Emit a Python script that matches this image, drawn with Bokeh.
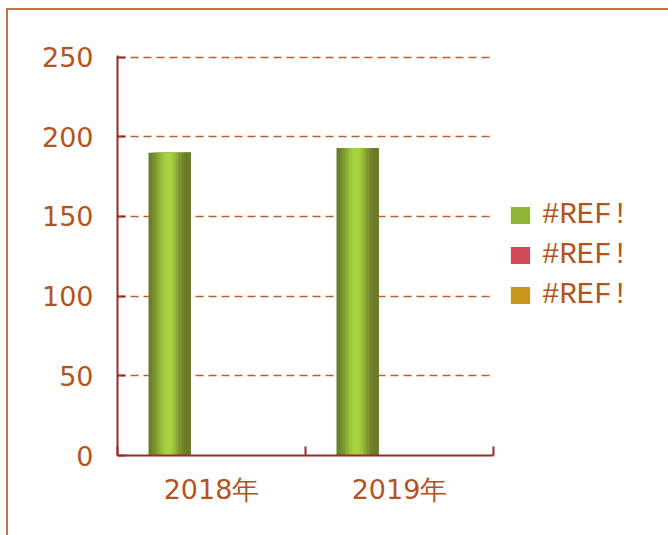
from bokeh.plotting import figure
from bokeh.models import (Range1d, FixedTicker, Legend, LegendItem, ColumnDataSource)
from bokeh.embed import file_html
from bokeh.resources import INLINE
import math

# ---- data ----
categories = ["2018年", "2019年"]
series_names = ["#REF!", "#REF!", "#REF!"]
series_1 = [190, 193]
series_2 = [math.nan, math.nan]
series_3 = [math.nan, math.nan]
y_ticks = [0, 50, 100, 150, 200, 250]

# ---- styles ----
TEXT = "#b5531f"
AXIS = "#9b2a2a"
GRID = "#bf5f2c"
BORDER = "#c47446"
gradients = [
    ["#6a7d2a", "#738b2c", "#7e9a2f", "#8cae34", "#9ac23a", "#a4cf3e", "#a8d440",
     "#a6d03f", "#9cc23b", "#8ca935", "#7d9430", "#72852c", "#6b7b2a", "#6a7a2a"],
    ["#8a2a3a", "#9a3242", "#b03c4c", "#c84656", "#dc5060", "#ea5868", "#f05c6c",
     "#ee5a6a", "#e05262", "#c84858", "#b03e4e", "#9c3444", "#8e2e3e", "#8a2c3c"],
    ["#9a7010", "#a67a12", "#b88814", "#cc9818", "#dea81c", "#eab420", "#f0ba22",
     "#eeb820", "#e0aa1c", "#cc9818", "#b88614", "#a67812", "#9a7010", "#987010"],
]
legend_colors = ["#8fb536", "#d24a5a", "#c89618"]

BAR_W = 0.2234      # fraction of a category
N_STRIP = len(gradients[0])

p = figure(width=660, height=525, x_range=Range1d(0, 2), y_range=Range1d(0, 251),
           output_backend="svg", toolbar_location=None,
           min_border_left=109, min_border_top=45, min_border_bottom=80,
           min_border_right=175, frame_width=376, frame_height=400)
p.margin = (8, 0, 0, 6)
p.styles = {"border-left": f"2px solid {BORDER}", "border-top": f"2px solid {BORDER}"}
p.outline_line_color = None
p.background_fill_color = "white"
p.border_fill_color = "white"

all_series = [series_1, series_2, series_3]
legend_items = []
for s, vals in enumerate(all_series):
    sw = BAR_W / N_STRIP
    for k in range(N_STRIP):
        lefts = [i + 0.5 + (s - 1) * BAR_W - BAR_W / 2 + k * sw
                 for i in range(len(categories))]
        rights = [i + 0.5 + (s - 1) * BAR_W + BAR_W / 2
                  for i in range(len(categories))]
        src = ColumnDataSource(dict(left=lefts, right=rights, top=vals))
        p.quad(left="left", right="right", top="top", bottom=0, source=src,
               fill_color=gradients[s][k], line_color=None)
    # legend swatch renderer (solid)
    src = ColumnDataSource(dict(x=[math.nan], top=[math.nan]))
    lr = p.vbar(x="x", top="top", bottom=0, width=BAR_W, source=src,
                fill_color=legend_colors[s], line_color=None)
    legend_items.append(LegendItem(label=series_names[s], renderers=[lr]))

# y axis
yax = p.yaxis[0]
yax.ticker = FixedTicker(ticks=y_ticks)
yax.axis_line_color = AXIS
yax.axis_line_width = 2
yax.major_tick_line_color = AXIS
yax.major_tick_line_width = 2
yax.major_tick_in = 8
yax.major_tick_out = 0
yax.minor_tick_line_color = None
yax.major_label_text_color = TEXT
yax.major_label_text_font = "DejaVu Sans"
yax.major_label_text_font_size = "27px"
yax.major_label_standoff = 24

# x axis
xax = p.xaxis[0]
xax.ticker = FixedTicker(ticks=[0.5, 1.5], minor_ticks=[0, 1, 2])
xax.major_label_overrides = {0.5: categories[0], 1.5: categories[1]}
xax.axis_line_color = AXIS
xax.axis_line_width = 2
xax.major_tick_line_color = None
xax.minor_tick_line_color = AXIS
xax.minor_tick_line_width = 2
xax.minor_tick_in = 9
xax.minor_tick_out = 0
xax.major_label_text_color = TEXT
xax.major_label_text_font = "DejaVu Sans"
xax.major_label_text_font_size = "27px"
xax.major_label_standoff = 12

p.xgrid.grid_line_color = None
p.ygrid.ticker = FixedTicker(ticks=y_ticks)
p.ygrid.grid_line_color = GRID
p.ygrid.grid_line_dash = "8 5"
p.ygrid.grid_line_width = 1.5

legend = Legend(items=legend_items, location="center_left")
legend.border_line_color = None
legend.background_fill_alpha = 0
legend.margin = 15
legend.padding = 0
legend.glyph_width = 24
legend.glyph_height = 21
legend.label_standoff = 10
legend.label_text_font = "Liberation Mono"
legend.label_text_font_size = "29px"
legend.label_text_color = TEXT
legend.label_height = 30
legend.spacing = 7
p.add_layout(legend, "right")

open("out.html", "w").write(file_html(p, INLINE))
